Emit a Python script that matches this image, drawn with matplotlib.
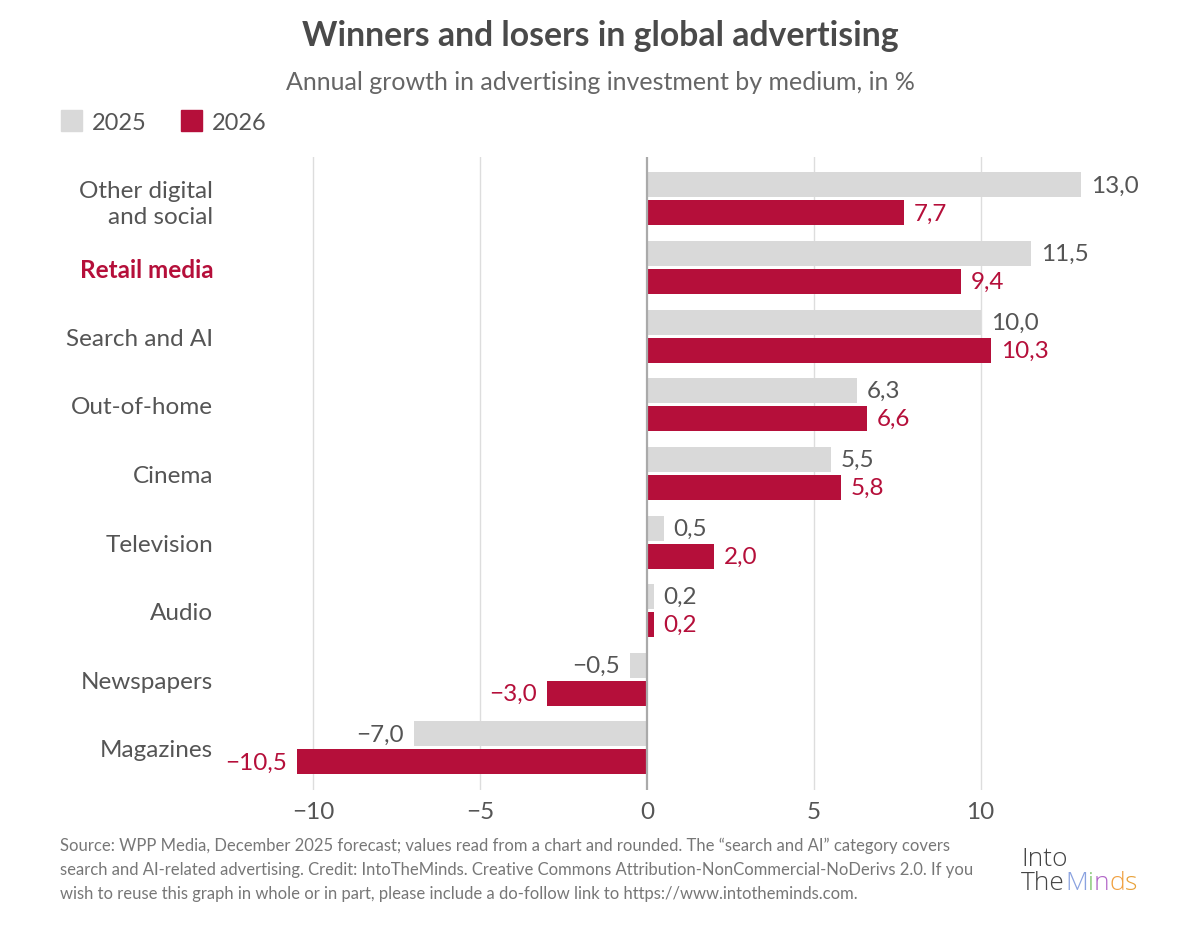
import matplotlib
matplotlib.use('Agg')
import matplotlib.pyplot as plt
from matplotlib.patches import Patch
import numpy as np

plt.rcParams['font.family'] = ['Lato', 'DejaVu Sans']

# Données
categories = ['Other digital\nand social', 'Retail media', 'Search and AI', 'Out-of-home',
              'Cinema', 'Television', 'Audio', 'Newspapers', 'Magazines']
growth_2025 = [13.0, 11.5, 10.0, 6.3, 5.5, 0.5, 0.2, -0.5, -7.0]
growth_2026 = [7.7, 9.4, 10.3, 6.6, 5.8, 2.0, 0.2, -3.0, -10.5]
x_ticks = [-10, -5, 0, 5, 10]

GRIS = '#d9d9d9'
ROUGE = '#b50f3a'
TEXTE = '#555555'


def fmt(v):
    s = f"{abs(v):.1f}".replace('.', ',')
    return ('\u2212' + s) if v < 0 else s


fig = plt.figure(figsize=(12, 9.29), dpi=100)
ax = fig.add_axes([0.1917, 0.1486, 0.7367, 0.6814])

y = np.arange(len(categories))
h = 0.364
off = 0.204

ax.barh(y - off, growth_2025, height=h, color=GRIS, zorder=3)
ax.barh(y + off, growth_2026, height=h, color=ROUGE, zorder=3)

# étiquettes de valeurs
pad = 0.3
for yi, v in zip(y, growth_2025):
    ax.text(v + pad if v >= 0 else v - pad, yi - off, fmt(v), va='center',
            ha='left' if v >= 0 else 'right', fontsize=17.5, color=TEXTE)
for yi, v in zip(y, growth_2026):
    ax.text(v + pad if v >= 0 else v - pad, yi + off, fmt(v), va='center',
            ha='left' if v >= 0 else 'right', fontsize=17.5, color=ROUGE)

ax.set_xlim(-12.5, 14)
ax.set_ylim(len(categories) - 1 + 0.612, -0.612)

for t in x_ticks:
    if t == 0:
        ax.axvline(t, color='#aaaaaa', lw=1.6, zorder=4)
    else:
        ax.axvline(t, color='#dddddd', lw=1.0, zorder=1)

ax.set_xticks(x_ticks)
ax.set_xticklabels([fmt(t).replace(',0', '') for t in x_ticks], fontsize=17.5, color=TEXTE)
ax.set_yticks(y)
ax.set_yticklabels(categories, fontsize=17.5, color=TEXTE, linespacing=1.3)
ax.tick_params(length=0, axis='y', pad=12)
ax.tick_params(length=0, axis='x', pad=8)
for lab in ax.get_yticklabels():
    if lab.get_text() == 'Retail media':
        lab.set_color(ROUGE)
        lab.set_fontweight('bold')
for s in ax.spines.values():
    s.set_visible(False)

# Titres
fig.text(0.5, 0.961, 'Winners and losers in global advertising', ha='center', va='center',
         fontsize=24.3, fontweight='bold', color='#4a4a4a')
fig.text(0.5, 0.911, 'Annual growth in advertising investment by medium, in %', ha='center',
         va='center', fontsize=18, color='#666666')

# Légende
handles = [Patch(color=GRIS, label='2025'), Patch(color=ROUGE, label='2026')]
leg = fig.legend(handles=handles, loc='center left', bbox_to_anchor=(0.0508, 0.868), ncol=2,
                 frameon=False, fontsize=17, handlelength=0.9, handleheight=0.95,
                 handletextpad=0.42, columnspacing=1.45, borderaxespad=0, borderpad=0)
for t in leg.get_texts():
    t.set_color(TEXTE)

# Source
source_lines = [
    "Source: WPP Media, December 2025 forecast; values read from a chart and rounded. The \u201csearch and AI\u201d category covers",
    "search and AI-related advertising. Credit: IntoTheMinds. Creative Commons Attribution-NonCommercial-NoDerivs 2.0. If you",
    "wish to reuse this graph in whole or in part, please include a do-follow link to https://www.intotheminds.com.",
]
for i, line in enumerate(source_lines):
    fig.text(0.05, 1 - (846 + 24 * i) / 929, line, ha='left', va='center', fontsize=12,
             color='#777777')

# Logo (texte)
fig.text(0.851, 1 - 860 / 929, 'Into', fontsize=19, color='#444444', ha='left', va='center',
         family=['Open Sans', 'DejaVu Sans'], fontweight='light')
lx = 0.851
logo_letters = [('The', '#444444'), ('M', '#8aa2e0'), ('i', '#7cc36a'), ('n', '#b266c8'),
                ('d', '#f0a040'), ('s', '#e8a23a')]
renderer = fig.canvas.get_renderer()
for txt, col in logo_letters:
    t = fig.text(lx, 1 - 884 / 929, txt, fontsize=19, color=col, ha='left', va='center',
                 family=['Open Sans', 'DejaVu Sans'], fontweight='light')
    bb = t.get_window_extent(renderer=renderer)
    lx += bb.width / fig.bbox.width

fig.savefig('out.png', dpi=100, facecolor='white')
